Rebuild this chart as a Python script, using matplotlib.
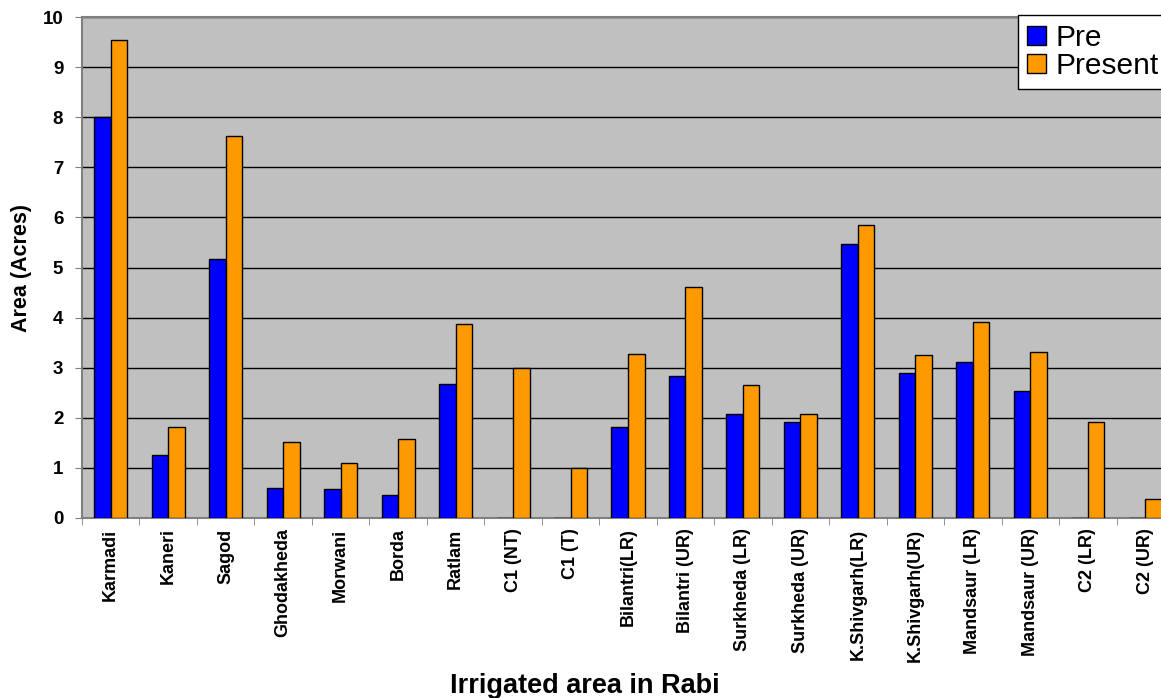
import numpy as np
import matplotlib
matplotlib.use("Agg")
import matplotlib.pyplot as plt

plt.rcParams['font.family'] = ['Liberation Sans', 'DejaVu Sans']

sites = ["Karmadi", "Kaneri", "Sagod", "Ghodakheda", "Morwani", "Borda", "Ratlam",
         "C1 (NT)", "C1 (T)", "Bilantri(LR)", "Bilantri (UR)", "Surkheda (LR)",
         "Surkheda (UR)", "K.Shivgarh(LR)", "K.Shivgarh(UR)", "Mandsaur (LR)",
         "Mandsaur (UR)", "C2 (LR)", "C2 (UR)"]
pre = [8.0, 1.26, 5.17, 0.59, 0.57, 0.45, 2.68, 0, 0, 1.82, 2.83, 2.08,
       1.92, 5.46, 2.90, 3.12, 2.54, 0, 0]
present = [9.55, 1.81, 7.62, 1.52, 1.09, 1.57, 3.87, 3.0, 1.0, 3.27, 4.62, 2.66,
           2.07, 5.84, 3.25, 3.92, 3.31, 1.92, 0.37]

W, H = 1161, 698
fig = plt.figure(figsize=(W / 100, H / 100), dpi=100)
# plot area runs a little past the right edge of the canvas
ax = fig.add_axes([82 / W, 1 - 518 / H, (1174 - 82) / W, (518 - 17) / H])
ax.set_facecolor('#C0C0C0')

x = np.arange(len(sites))
bw = 0.288
ax.bar(x - bw / 2, pre, bw, color='#0000FF', edgecolor='black', linewidth=1, label='Pre', zorder=3)
ax.bar(x + bw / 2, present, bw, color='#FF9900', edgecolor='black', linewidth=1, label='Present', zorder=3)

ax.set_xlim(-0.5, len(sites) - 0.5)
ax.set_ylim(0, 10)
ax.set_yticks(range(0, 11))
ax.yaxis.grid(True, color='black', linewidth=1, zorder=1)
ax.set_axisbelow(True)

ax.set_xticks(x)
ax.set_xticklabels(sites, rotation=90, fontsize=13, fontweight='bold', va='top')
ax.set_xticks(np.arange(-0.5, len(sites)), minor=True)
ax.tick_params(axis='x', which='major', length=0, pad=7.5)
ax.tick_params(axis='x', which='minor', length=5, color='#808080', direction='out')
ax.tick_params(axis='y', length=5, color='#808080', labelsize=13.5, pad=8.5)
for lab in ax.get_yticklabels():
    lab.set_fontweight('bold')

for side in ['left', 'bottom', 'top', 'right']:
    ax.spines[side].set_color('#808080')
    ax.spines[side].set_linewidth(1.5)

ax.set_ylabel('Area (Acres)', fontsize=15.5, fontweight='bold')
ax.yaxis.set_label_coords(-50 / 1092, 0.5)
ax.set_xlabel('Irrigated area in Rabi', fontsize=19.5, fontweight='bold')
ax.xaxis.set_label_coords((585 - 82) / 1092, -(673 - 518) / 501)

leg = fig.legend(loc='upper left', bbox_to_anchor=(1018 / W, 1 - 15 / H),
                 bbox_transform=fig.transFigure, borderaxespad=0, fontsize=21.5,
                 frameon=True, fancybox=False, framealpha=1, edgecolor='black',
                 handlelength=0.64, handleheight=0.57, handletextpad=0.3,
                 labelspacing=0.0, borderpad=0.3)
leg.get_frame().set_linewidth(1)

fig.savefig('out.png', dpi=100)
